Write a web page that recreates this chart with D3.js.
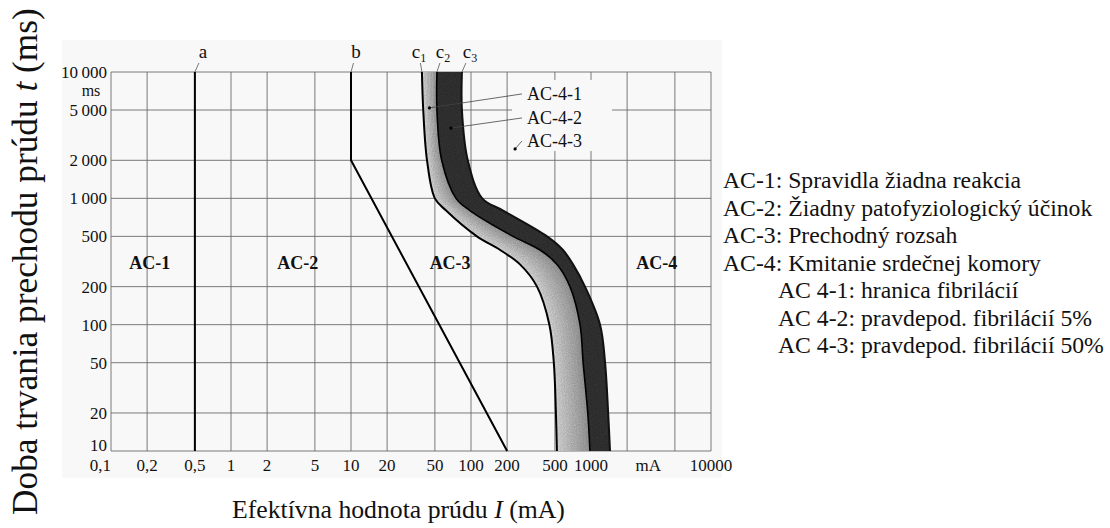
<!DOCTYPE html>
<html>
<head>
<meta charset="utf-8">
<script src="https://cdn.jsdelivr.net/npm/d3@7"></script>
<style>
  body { margin: 0; background: #fff; }
  svg text { fill: #111; }
</style>
</head>
<body>
<div id="chart"></div>
<script>
// axis ticks
var xTicks = [0.1, 0.2, 0.5, 1, 2, 5, 10, 20, 50, 100, 200, 500, 1000, 2000, 5000, 10000];
var xTickLabels = ["0,1", "0,2", "0,5", "1", "2", "5", "10", "20", "50", "100", "200", "500", "1000", "", "", "10000"];
var yTicks = [10, 20, 50, 100, 200, 500, 1000, 2000, 5000, 10000];
var yTickLabels = ["10", "20", "50", "100", "200", "500", "1\u2009000", "2\u2009000", "5\u2009000", "10\u2009000"];

// boundary lines (mA, ms)
var lineA = [[0.5, 10000], [0.5, 10]];
var lineB = [[10, 10000], [10, 2000], [200, 10]];

// c1, c2, c3 curves: current (mA) read at each duration (ms)
var bandTimes = [10000, 5000, 2000, 1000, 800, 500, 390, 300, 200, 100, 50, 20, 10];
var c1Current = [39, 40, 43, 50, 62, 112, 175, 256, 355, 450, 490, 510, 520];
var c2Current = [52, 52, 57, 75, 98, 224, 376, 521, 668, 810, 860, 940, 980];
var c3Current = [84, 84, 94, 124, 185, 430, 584, 708, 891, 1190, 1310, 1390, 1440];

var zoneNames = ["AC-1", "AC-2", "AC-3", "AC-4"];
var zoneCurrent = [0.21, 3.6, 67, 3530];
var zoneTime = 308;

var subNames = ["AC-4-1", "AC-4-2", "AC-4-3"];
var subTextTime = [6010, 3880, 2550];
var subTextCurrent = 293;
var subDotCurrent = [45, 68, 233];
var subDotTime = [5200, 3600, 2460];

var legendLines = [
  "AC-1: Spravidla žiadna reakcia",
  "AC-2: Žiadny patofyziologický účinok",
  "AC-3: Prechodný rozsah",
  "AC-4: Kmitanie srdečnej komory"
];
var legendSubLines = [
  "AC 4-1: hranica fibrilácií",
  "AC 4-2: pravdepod. fibrilácií 5%",
  "AC 4-3: pravdepod. fibrilácií 50%"
];

var W = 1110, H = 528;
var serif = "'Liberation Serif', 'Times New Roman', serif";

var svg = d3.select("#chart").append("svg")
  .attr("width", W)
  .attr("height", H);

var defs = svg.append("defs");
var grain = defs.append("filter").attr("id", "grain")
  .attr("x", 0).attr("y", 0).attr("width", 1).attr("height", 1);
grain.append("feTurbulence")
  .attr("type", "fractalNoise").attr("baseFrequency", 0.9)
  .attr("numOctaves", 2).attr("seed", 3).attr("result", "n");
grain.append("feColorMatrix").attr("in", "n").attr("type", "matrix")
  .attr("values", "0 0 0 0 0  0 0 0 0 0  0 0 0 0 0  0 0 0 0.45 -0.05")
  .attr("result", "na");
grain.append("feComposite").attr("in", "na").attr("in2", "SourceGraphic")
  .attr("operator", "in").attr("result", "nb");
var gm = grain.append("feMerge");
gm.append("feMergeNode").attr("in", "SourceGraphic");
gm.append("feMergeNode").attr("in", "nb");

var x = d3.scaleLog().domain([0.1, 10000]).range([111, 711]);
var y = d3.scaleLog().domain([10, 10000]).range([451, 72]);

// faint scanned paper
svg.append("rect")
  .attr("x", 62).attr("y", 40)
  .attr("width", 660).attr("height", 438)
  .attr("fill", "#f8f8f8");

var plot = svg.append("g");

// grid
plot.selectAll(".vgrid")
  .data(xTicks)
  .enter().append("line")
    .attr("class", "vgrid")
    .attr("x1", function(d) { return x(d); })
    .attr("x2", function(d) { return x(d); })
    .attr("y1", y(10))
    .attr("y2", y(10000))
    .attr("stroke", "#6b6b6b")
    .attr("stroke-width", 0.9);

plot.selectAll(".hgrid")
  .data(yTicks)
  .enter().append("line")
    .attr("class", "hgrid")
    .attr("x1", x(0.1))
    .attr("x2", x(10000))
    .attr("y1", function(d) { return y(d); })
    .attr("y2", function(d) { return y(d); })
    .attr("stroke", "#6b6b6b")
    .attr("stroke-width", 0.9);

// bands
var bandData = bandTimes.map(function(t, i) {
  return { t: t, c1: c1Current[i], c2: c2Current[i], c3: c3Current[i] };
});

function mix(a, b, f) {
  return Math.pow(10, Math.log10(a) + f * (Math.log10(b) - Math.log10(a)));
}

var smooth = d3.curveCatmullRom.alpha(0.5);
var bands = plot.append("g").attr("filter", "url(#grain)");

var steps = 10;
var lightShade = d3.interpolateRgb("#dcdcdc", "#9a9a9a");
for (var k = 0; k < steps; k++) {
  var f0 = k / steps, f1 = (k + 1) / steps;
  var subArea = d3.area()
    .y(function(d) { return y(d.t); })
    .x0(function(d) { return x(mix(d.c1, d.c2, f0)); })
    .x1(function(d) { return x(mix(d.c1, d.c2, f1 + 0.02)); })
    .curve(smooth);
  bands.append("path")
    .datum(bandData)
    .attr("d", subArea)
    .attr("fill", lightShade((k + 0.5) / steps));
}

var darkArea = d3.area()
  .y(function(d) { return y(d.t); })
  .x0(function(d) { return x(d.c2); })
  .x1(function(d) { return x(d.c3); })
  .curve(smooth);

bands.append("path")
  .datum(bandData)
  .attr("d", darkArea)
  .attr("fill", "#363636");

function curveLine(key) {
  return d3.line()
    .y(function(d) { return y(d.t); })
    .x(function(d) { return x(d[key]); })
    .curve(smooth);
}

plot.append("path").datum(bandData).attr("d", curveLine("c1"))
  .attr("fill", "none").attr("stroke", "#000").attr("stroke-width", 2);
plot.append("path").datum(bandData).attr("d", curveLine("c2"))
  .attr("fill", "none").attr("stroke", "#000").attr("stroke-width", 1.6);
plot.append("path").datum(bandData).attr("d", curveLine("c3"))
  .attr("fill", "none").attr("stroke", "#111").attr("stroke-width", 2);

// a and b
var straight = d3.line()
  .x(function(d) { return x(d[0]); })
  .y(function(d) { return y(d[1]); });

plot.append("path").datum(lineA).attr("d", straight)
  .attr("fill", "none").attr("stroke", "#000").attr("stroke-width", 2);
plot.append("path").datum(lineB).attr("d", straight)
  .attr("fill", "none").attr("stroke", "#000").attr("stroke-width", 2);

// curve names above the plot
function topLabel(xpos, dx, name, sub) {
  var g = svg.append("g");
  g.append("line")
    .attr("x1", xpos).attr("y1", y(10000))
    .attr("x2", xpos + dx * 0.5).attr("y2", y(10000) - 9)
    .attr("stroke", "#555").attr("stroke-width", 0.8);
  var t = g.append("text")
    .attr("x", xpos + dx)
    .attr("y", 58)
    .attr("text-anchor", "middle")
    .attr("font-family", serif)
    .attr("font-size", 19)
    .text(name);
  if (sub) {
    t.append("tspan")
      .attr("font-size", 12)
      .attr("dy", 4)
      .text(sub);
  }
}
topLabel(x(lineA[0][0]), 8, "a");
topLabel(x(lineB[0][0]), 5, "b");
topLabel(x(c1Current[0]), -3, "c", "1");
topLabel(x(c2Current[0]), 6, "c", "2");
topLabel(x(c3Current[0]), 8, "c", "3");

// AC-4-x labels with knock-out box
var subG = svg.append("g");
var subBox = subG.append("rect").attr("fill", "#f8f8f8");
subNames.forEach(function(name, i) {
  var tx = x(subTextCurrent), ty = y(subTextTime[i]);
  subG.append("text")
    .attr("x", tx)
    .attr("y", ty)
    .attr("font-family", serif)
    .attr("font-size", 18)
    .text(name);
});
var sb = subG.node().getBBox();
subBox.attr("x", sb.x - 15).attr("y", sb.y - 4)
  .attr("width", sb.width + 45).attr("height", sb.height + 4);

subNames.forEach(function(name, i) {
  var tx = x(subTextCurrent), ty = y(subTextTime[i]);
  svg.append("line")
    .attr("x1", tx - 5).attr("y1", ty - 6)
    .attr("x2", x(subDotCurrent[i])).attr("y2", y(subDotTime[i]))
    .attr("stroke", "#444").attr("stroke-width", 0.8);
  svg.append("circle")
    .attr("cx", x(subDotCurrent[i])).attr("cy", y(subDotTime[i]))
    .attr("r", 1.6).attr("fill", "#000");
});

// zone names
svg.selectAll(".zone")
  .data(zoneNames)
  .enter().append("text")
    .attr("class", "zone")
    .attr("x", function(d, i) { return x(zoneCurrent[i]); })
    .attr("y", y(zoneTime))
    .attr("dy", "0.35em")
    .attr("text-anchor", "middle")
    .attr("font-family", serif)
    .attr("font-weight", "bold")
    .attr("font-size", 18)
    .text(function(d) { return d; });

// tick labels
svg.selectAll(".ylab")
  .data(yTicks)
  .enter().append("text")
    .attr("class", "ylab")
    .attr("x", 107)
    .attr("y", function(d) { return y(d); })
    .attr("dy", function(d) { return d == 10 ? "0em" : "0.35em"; })
    .attr("text-anchor", "end")
    .attr("font-family", serif)
    .attr("font-size", 17)
    .text(function(d, i) { return yTickLabels[i]; });

svg.append("text")
  .attr("x", 91)
  .attr("y", 96)
  .attr("text-anchor", "middle")
  .attr("font-family", serif)
  .attr("font-size", 16)
  .text("ms");

svg.selectAll(".xlab")
  .data(xTicks)
  .enter().append("text")
    .attr("class", "xlab")
    .attr("x", function(d) { return x(d); })
    .attr("y", 471)
    .attr("text-anchor", function(d, i) { return i == 0 ? "end" : "middle"; })
    .attr("font-family", serif)
    .attr("font-size", 17)
    .text(function(d, i) { return xTickLabels[i]; });

svg.append("text")
  .attr("x", x(3000))
  .attr("y", 471)
  .attr("text-anchor", "middle")
  .attr("font-family", serif)
  .attr("font-size", 17)
  .text("mA");

// fit a text element to a target width
function fitWidth(sel, target) {
  var w = sel.node().getComputedTextLength();
  var fs = parseFloat(sel.attr("font-size"));
  sel.attr("font-size", fs * target / w);
}

// axis titles
var xTitle = svg.append("text")
  .attr("x", 232)
  .attr("y", 518)
  .attr("font-family", serif)
  .attr("font-size", 26);
xTitle.append("tspan").text("Efektívna hodnota prúdu ");
xTitle.append("tspan").attr("font-style", "italic").text("I");
xTitle.append("tspan").text(" (mA)");
fitWidth(xTitle, 333);

var yTitle = svg.append("text")
  .attr("transform", "translate(37,515) rotate(-90)")
  .attr("font-family", serif)
  .attr("font-size", 34);
yTitle.append("tspan").text("Doba trvania prechodu prúdu ");
yTitle.append("tspan").attr("font-style", "italic").text("t");
yTitle.append("tspan").text(" (ms)");
fitWidth(yTitle, 507);

// legend
var legend = svg.append("g").attr("font-family", serif);
var legendRows = legendLines.map(function(d) { return { text: d, indent: 0 }; })
  .concat(legendSubLines.map(function(d) { return { text: d, indent: 1 }; }));
var rows = legend.selectAll("text")
  .data(legendRows)
  .enter().append("text")
    .attr("x", function(d) { return d.indent ? 778 : 723; })
    .attr("y", function(d, i) { return 188 + i * 27.5; })
    .attr("font-size", 20)
    .text(function(d) { return d.text; });

// scale the legend font so that no row passes the right edge
var scale = Infinity;
rows.each(function(d) {
  var left = d.indent ? 778 : 723;
  var w = this.getComputedTextLength();
  scale = Math.min(scale, (1104 - left) / w);
});
rows.attr("font-size", 20 * scale);
</script>
</body>
</html>
